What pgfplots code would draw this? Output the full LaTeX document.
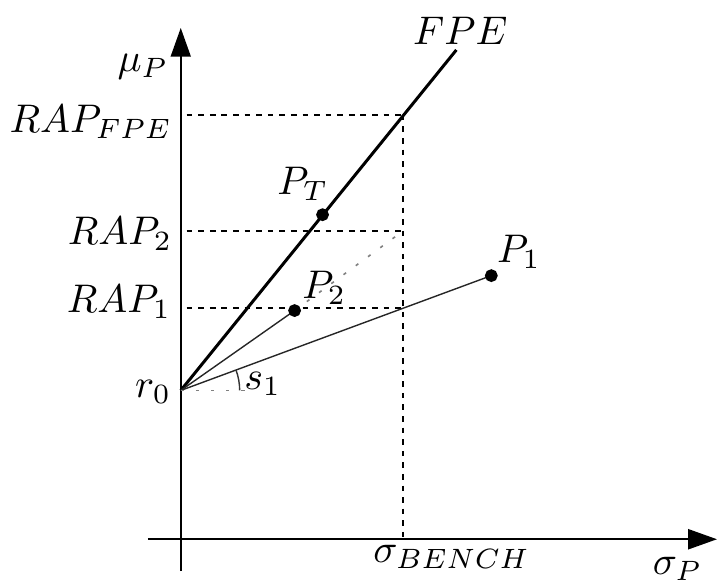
\documentclass[border=0pt]{standalone}
\usepackage{pgfplots}
\pgfplotsset{compat=1.18}
\usetikzlibrary{arrows.meta}
\begin{document}
\begin{tikzpicture}
\begin{axis}[
  x=0.25pt, y=0.25pt,
  xmin=0, xmax=718, ymin=0, ymax=579,
  hide axis, clip=false,
]
% frame of the page
\path (axis cs:0,0) rectangle (axis cs:718,579);
% axes
\draw[line width=0.5pt,-{Triangle[length=7.2pt,width=5pt]}] (axis cs:148,39) -- (axis cs:718,39);
\draw[line width=0.5pt,-{Triangle[length=7.2pt,width=5pt]}] (axis cs:181,7) -- (axis cs:181,551);
% reference levels
\addplot[dash pattern=on 1.4pt off 1.5pt, line width=0.5pt] coordinates {(187,464) (404,464)};
\addplot[dash pattern=on 1.4pt off 1.5pt, line width=0.5pt] coordinates {(187,348) (404,348)};
\addplot[dash pattern=on 1.4pt off 1.5pt, line width=0.5pt] coordinates {(187,271) (404,271)};
\addplot[dash pattern=on 1.4pt off 1.5pt, line width=0.5pt] coordinates {(404,464) (404,39)};
% efficient frontier
\addplot[line width=0.75pt] coordinates {(181,188) (457,529)};
% portfolio rays
\addplot[line width=0.35pt, black!85] coordinates {(181,188) (295,268)};
\addplot[line width=0.35pt, black!85] coordinates {(181,188) (492,303)};
\addplot[line width=0.4pt, gray, dash pattern=on 0.8pt off 3pt] coordinates {(295,268) (404,348)};
% slope angle
\addplot[line width=0.4pt, gray, dash pattern=on 0.8pt off 3pt] coordinates {(181,188) (252,188)};
\draw[line width=0.35pt, black!80] (axis cs:240,188) arc[start angle=0, end angle=20.3, radius=14.75pt];
% portfolios
\addplot[only marks, mark=*, mark size=1.4pt] coordinates {(323,364) (295,268) (492,303)};
% labels
\node[anchor=base west, inner sep=0pt] at (axis cs:117,507) {$\mu_P$};
\node[anchor=base east, inner sep=0pt] at (axis cs:173,446) {$RAP_{FPE}$};
\node[anchor=base east, inner sep=0pt] at (axis cs:173,334) {$RAP_2$};
\node[anchor=base east, inner sep=0pt] at (axis cs:172,266) {$RAP_1$};
\node[anchor=base east, inner sep=0pt] at (axis cs:172,181) {$r_0$};
\node[anchor=base west, inner sep=0pt] at (axis cs:244,189) {$s_1$};
\node[anchor=base west, inner sep=0pt] at (axis cs:277,384) {$P_T$};
\node[anchor=base west, inner sep=0pt] at (axis cs:302,280) {$P_2$};
\node[anchor=base west, inner sep=0pt] at (axis cs:497,316) {$P_1$};
\node[anchor=base west, inner sep=0pt] at (axis cs:413,534) {$FPE$};
\node[anchor=base west, inner sep=0pt] at (axis cs:373,16) {$\sigma_{BENCH}$};
\node[anchor=base west, inner sep=0pt] at (axis cs:653,4) {$\sigma_P$};
\end{axis}
\end{tikzpicture}
\end{document}
